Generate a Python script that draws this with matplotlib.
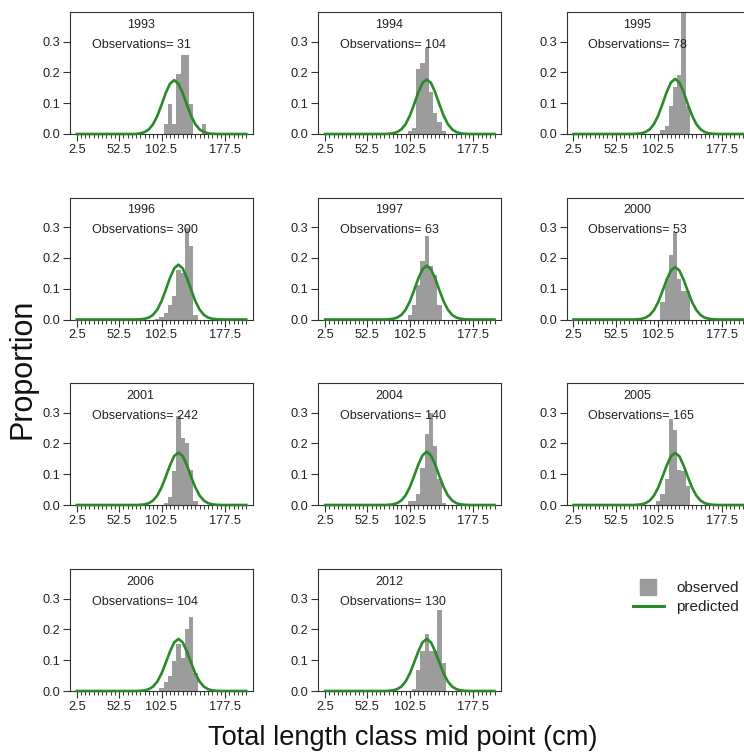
import numpy as np
import matplotlib
matplotlib.use("Agg")
import matplotlib.pyplot as plt
from matplotlib.lines import Line2D

plt.rcParams['font.family'] = ['Liberation Sans', 'DejaVu Sans']

# ---------------- data ----------------
years = ["1993", "1994", "1995", "1996", "1997", "2000",
         "2001", "2004", "2005", "2006", "2012"]
n_obs = [31, 104, 78, 300, 63, 53, 242, 140, 165, 104, 130]

# length-class mid points (cm)
mids = np.arange(2.5, 203, 5)

# observed proportions for classes 97.5 ... 152.5
obs_classes = [97.5, 102.5, 107.5, 112.5, 117.5, 122.5, 127.5, 132.5, 137.5, 142.5, 147.5, 152.5]
obs_1993 = [0.0, 0.0, 0.032, 0.097, 0.032, 0.194, 0.258, 0.258, 0.097, 0.0, 0.0, 0.032]
obs_1994 = [0.0, 0.010, 0.019, 0.212, 0.231, 0.279, 0.135, 0.067, 0.038, 0.010, 0.0, 0.0]
obs_1995 = [0.0, 0.0, 0.013, 0.026, 0.090, 0.154, 0.192, 0.436, 0.090, 0.0, 0.0, 0.0]
obs_1996 = [0.003, 0.007, 0.020, 0.047, 0.077, 0.160, 0.150, 0.297, 0.240, 0.013, 0.0, 0.0]
obs_1997 = [0.0, 0.016, 0.048, 0.111, 0.190, 0.270, 0.175, 0.143, 0.048, 0.0, 0.0, 0.0]
obs_2000 = [0.0, 0.0, 0.057, 0.132, 0.208, 0.283, 0.132, 0.094, 0.094, 0.0, 0.0, 0.0]
obs_2001 = [0.0, 0.0, 0.008, 0.025, 0.110, 0.289, 0.219, 0.202, 0.112, 0.012, 0.0, 0.0]
obs_2004 = [0.0, 0.014, 0.014, 0.036, 0.121, 0.229, 0.300, 0.193, 0.086, 0.007, 0.0, 0.0]
obs_2005 = [0.0, 0.012, 0.036, 0.085, 0.279, 0.242, 0.115, 0.109, 0.061, 0.0, 0.0, 0.0]
obs_2006 = [0.0, 0.010, 0.029, 0.048, 0.096, 0.154, 0.106, 0.202, 0.240, 0.058, 0.0, 0.0]
obs_2012 = [0.0, 0.0, 0.008, 0.069, 0.131, 0.185, 0.131, 0.131, 0.262, 0.092, 0.0, 0.0]

# predicted proportions for classes 77.5 ... 167.5 (zero elsewhere)
pred_1993 = [0.0022, 0.0061, 0.0148, 0.0315, 0.0584, 0.0944, 0.133, 0.163, 0.175, 0.163,
             0.133, 0.0944, 0.0584, 0.0315, 0.0148, 0.0061, 0.0022, 0.0007, 0.0002]
pred_1994 = [0.0007, 0.0022, 0.0062, 0.0150, 0.0318, 0.0590, 0.0955, 0.135, 0.166, 0.177,
             0.166, 0.135, 0.0955, 0.0590, 0.0318, 0.0150, 0.0062, 0.0022, 0.0007]
pred_1995 = [0.0007, 0.0022, 0.0063, 0.0152, 0.0322, 0.0597, 0.0966, 0.136, 0.167, 0.179,
             0.167, 0.136, 0.0966, 0.0597, 0.0322, 0.0152, 0.0063, 0.0022, 0.0007]
pred_1996 = [0.0007, 0.0022, 0.0062, 0.0151, 0.0320, 0.0594, 0.0960, 0.135, 0.166, 0.178,
             0.166, 0.135, 0.0960, 0.0594, 0.0320, 0.0151, 0.0062, 0.0022, 0.0007]
pred_1997 = [0.0007, 0.0022, 0.0061, 0.0148, 0.0315, 0.0584, 0.0944, 0.133, 0.163, 0.175,
             0.163, 0.133, 0.0944, 0.0584, 0.0315, 0.0148, 0.0061, 0.0022, 0.0007]
pred_2000 = [0.0007, 0.0021, 0.0059, 0.0144, 0.0306, 0.0567, 0.0917, 0.129, 0.159, 0.170,
             0.159, 0.129, 0.0917, 0.0567, 0.0306, 0.0144, 0.0059, 0.0021, 0.0007]
pred_2001 = [0.0007, 0.0021, 0.0059, 0.0144, 0.0306, 0.0567, 0.0917, 0.129, 0.159, 0.170,
             0.159, 0.129, 0.0917, 0.0567, 0.0306, 0.0144, 0.0059, 0.0021, 0.0007]
pred_2004 = [0.0007, 0.0021, 0.0060, 0.0146, 0.0311, 0.0577, 0.0933, 0.131, 0.161, 0.173,
             0.161, 0.131, 0.0933, 0.0577, 0.0311, 0.0146, 0.0060, 0.0021, 0.0007]
pred_2005 = [0.0007, 0.0021, 0.0059, 0.0143, 0.0304, 0.0564, 0.0912, 0.128, 0.158, 0.169,
             0.158, 0.128, 0.0912, 0.0564, 0.0304, 0.0143, 0.0059, 0.0021, 0.0007]
pred_2006 = [0.0007, 0.0021, 0.0059, 0.0143, 0.0304, 0.0564, 0.0912, 0.128, 0.158, 0.169,
             0.158, 0.128, 0.0912, 0.0564, 0.0304, 0.0143, 0.0059, 0.0021, 0.0007]
pred_2012 = [0.0007, 0.0021, 0.0059, 0.0143, 0.0304, 0.0564, 0.0912, 0.128, 0.158, 0.169,
             0.158, 0.128, 0.0912, 0.0564, 0.0304, 0.0143, 0.0059, 0.0021, 0.0007]

observed = [obs_1993, obs_1994, obs_1995, obs_1996, obs_1997, obs_2000,
            obs_2001, obs_2004, obs_2005, obs_2006, obs_2012]
predicted = [pred_1993, pred_1994, pred_1995, pred_1996, pred_1997, pred_2000,
             pred_2001, pred_2004, pred_2005, pred_2006, pred_2012]

xtick_labels = ["2.5", "52.5", "102.5", "177.5"]
ytick_values = [0.0, 0.1, 0.2, 0.3]
ytick_labels = ["0.0", "0.1", "0.2", "0.3"]

# ---------------- figure ----------------
W, H = 744, 753
fig = plt.figure(figsize=(W / 100, H / 100), dpi=100)

col_left = [70, 318.3, 566.7]
row_top = [12, 197.5, 383, 569]
ax_w, ax_h = 183, 122

bar_color = "#9c9c9c"
line_color = "#2a8a2a"
spine_color = "#333333"

for i, yr in enumerate(years):
    r, c = divmod(i, 3)
    left = col_left[c] / W
    bottom = 1 - (row_top[r] + ax_h) / H
    ax = fig.add_axes([left, bottom, ax_w / W, ax_h / H])

    ax.bar(obs_classes, observed[i], width=5, color=bar_color, edgecolor="none", zorder=2)
    # first 77.5 class: offset 15 classes of zeros before, 7 after
    full_pred = [0.0] * 15 + predicted[i] + [0.0] * 7
    ax.plot(mids, full_pred, color=line_color, lw=1.9, zorder=3, clip_on=False)

    ax.set_xlim(-5.5, 210.5)
    ax.set_ylim(0, 0.396)

    ax.set_xticks(mids, minor=True)
    ax.set_xticks([float(t) for t in xtick_labels])
    ax.set_xticklabels(xtick_labels)
    ax.set_yticks(ytick_values)
    ax.set_yticklabels(ytick_labels)

    ax.tick_params(axis="both", which="major", labelsize=9.2, direction="out",
                   color=spine_color, width=0.8, labelcolor="#222222")
    ax.tick_params(axis="x", which="major", length=5, pad=2)
    ax.tick_params(axis="x", which="minor", length=2.6, width=0.7, color=spine_color)
    ax.tick_params(axis="y", which="major", length=5, pad=2)
    for s in ax.spines.values():
        s.set_color(spine_color)
        s.set_linewidth(0.8)

    ax.text(78, 0.354, yr, ha="center", va="center", fontsize=9.0, color="#222222")
    ax.text(20, 0.29, "Observations= %d" % n_obs[i], ha="left", va="center",
            fontsize=9.0, color="#222222")

fig.text(403 / W, 1 - 738 / H, "Total length class mid point (cm)",
         ha="center", va="center", fontsize=19.6, color="#111111")
fig.text(22 / W, 1 - 369 / H, "Proportion", rotation=90,
         ha="center", va="center", fontsize=22, color="#111111")

handles = [Line2D([], [], marker="s", markersize=11, color=bar_color, lw=0),
           Line2D([], [], color=line_color, lw=2.2)]
fig.legend(handles, ["observed", "predicted"], loc="upper left",
           bbox_to_anchor=(633 / W, 1 - 581 / H), frameon=False, fontsize=11,
           handlelength=2.0, handletextpad=0.85, labelspacing=0.33,
           borderpad=0, borderaxespad=0, labelcolor="#222222")

fig.savefig("out.png", dpi=100)
